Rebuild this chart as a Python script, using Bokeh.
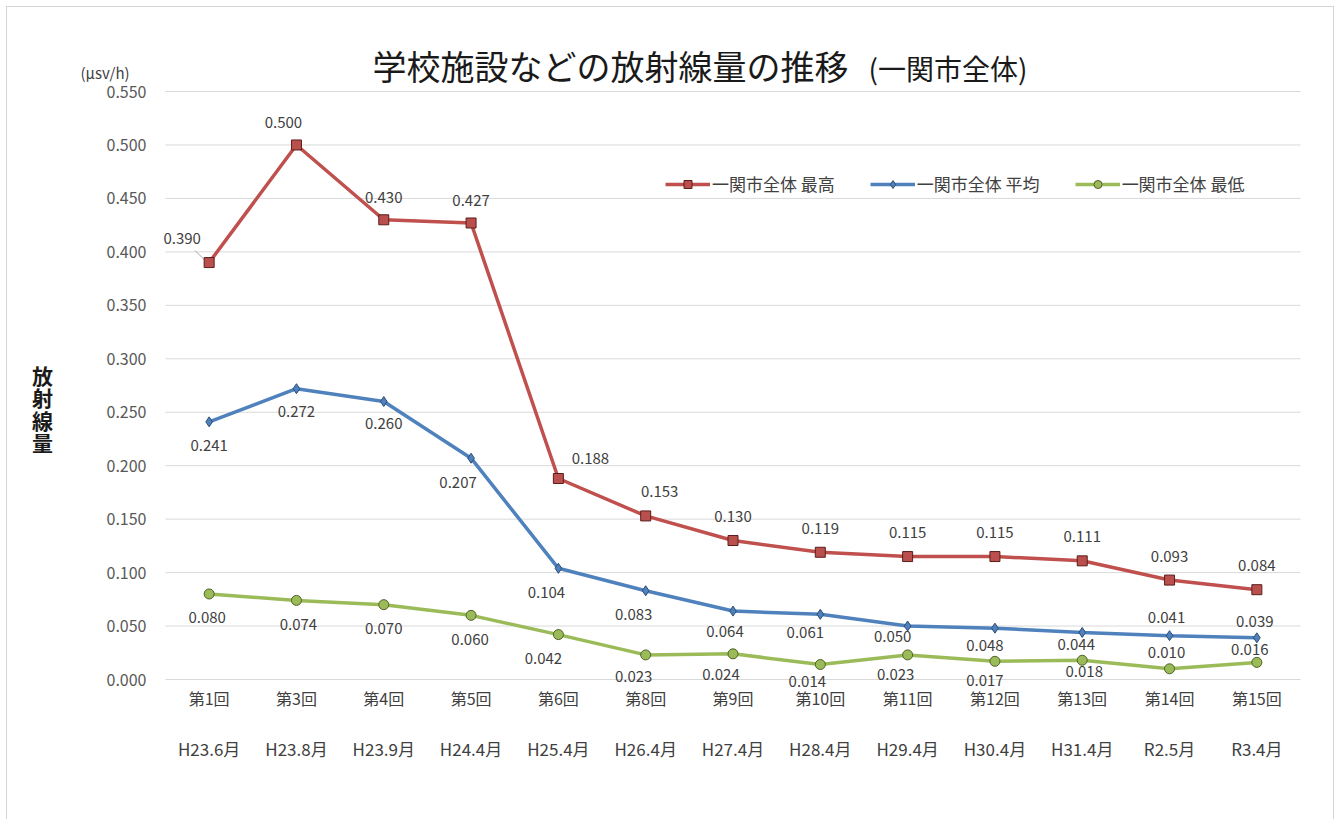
from bokeh.plotting import figure
from bokeh.models import ColumnDataSource, Label, Legend, LegendItem, Range1d
from bokeh.core.properties import value
from bokeh.embed import file_html
from bokeh.resources import INLINE

# ---- data ----
rounds = ["第1回", "第3回", "第4回", "第5回", "第6回", "第8回", "第9回",
          "第10回", "第11回", "第12回", "第13回", "第14回", "第15回"]
dates = ["H23.6月", "H23.8月", "H23.9月", "H24.4月", "H25.4月", "H26.4月", "H27.4月",
         "H28.4月", "H29.4月", "H30.4月", "H31.4月", "R2.5月", "R3.4月"]
max_vals = [0.390, 0.500, 0.430, 0.427, 0.188, 0.153, 0.130, 0.119, 0.115, 0.115, 0.111, 0.093, 0.084]
avg_vals = [0.241, 0.272, 0.260, 0.207, 0.104, 0.083, 0.064, 0.061, 0.050, 0.048, 0.044, 0.041, 0.039]
min_vals = [0.080, 0.074, 0.070, 0.060, 0.042, 0.023, 0.024, 0.014, 0.023, 0.017, 0.018, 0.010, 0.016]
y_ticks = [0.00, 0.05, 0.10, 0.15, 0.20, 0.25, 0.30, 0.35, 0.40, 0.45, 0.50, 0.55]
y_tick_labels = ["0.000", "0.050", "0.100", "0.150", "0.200", "0.250", "0.300",
                 "0.350", "0.400", "0.450", "0.500", "0.550"]
series_names = ["一関市全体 最高", "一関市全体 平均", "一関市全体 最低"]
title_main = "学校施設などの放射線量の推移"
title_sub = "(一関市全体)"
unit_text = "(µsv/h)"
y_title = "放射線量"

# ---- layout (page pixels) ----
W, H = 1328, 813
CL, CT = 7, 7                     # canvas origin on the page
CR, CB = CL + W, CT + H
PL, PR, PT, PB = 165, 1300, 91, 679   # plot area: first/last band edges, top tick line, 0 line
n = len(rounds)
xs = (PR - PL) / n
ys = (PB - PT) / y_ticks[-1]
X0 = -0.5 - (PL - CL) / xs
X1 = n - 0.5 + (CR - PR) / xs
Y0 = -(CB - PB) / ys
Y1 = y_ticks[-1] + (PT - CT) / ys

def sx(px):  # page x -> canvas screen x
    return px - CL

def sy(py):  # page y -> canvas screen y (from bottom)
    return CB - py

# label offsets in px (dx right, dy down)
max_off = [(-27, -24), (-13, -22), (0, -22), (0, -22), (32, -20), (14, -24), (0, -24),
           (0, -24), (0, -24), (0, -24), (0, -24), (0, -24), (0, -24)]
avg_off = [(0, 24), (0, 23), (0, 22), (-13, 24), (-12, 24), (-12, 24), (-8, 20),
           (-15, 18), (-15, 10), (-10, 17), (-6, 12), (-3, -18), (-2, -16)]
min_off = [(-2, 24), (2, 24), (0, 24), (-1, 24), (-15, 24), (-12, 22), (-12, 21),
           (-13, 17), (-12, 20), (-10, 19), (2, 11), (-3, -16), (-7, -13)]

RED, BLUE, GREEN = "#C0504D", "#4F81BD", "#9BBB59"
JP = "Noto Sans CJK JP"

p = figure(width=W, height=H, title=None,
           x_range=Range1d(X0, X1), y_range=Range1d(Y0, Y1),
           x_axis_location=None, y_axis_location=None,
           output_backend="svg", toolbar_location=None,
           min_border_left=0, min_border_right=0, min_border_top=0, min_border_bottom=0)
p.styles = {"margin-left": "6px", "margin-top": "6px",
            "border-left": "1px solid #d6d6d6", "border-top": "1px solid #d6d6d6",
            "border-right": "1px solid #d6d6d6"}
p.outline_line_color = None
p.background_fill_color = "white"
p.border_fill_color = "white"
p.grid.visible = False

idx = list(range(n))

# horizontal gridlines
p.segment(x0=[-0.5] * len(y_ticks), x1=[n - 0.5] * len(y_ticks), y0=y_ticks, y1=y_ticks,
          line_color="#d9d9d9", line_width=1)

# y tick labels
p.text(x=[-0.5] * len(y_ticks), y=y_ticks, text=y_tick_labels, x_offset=-19,
       text_align="right", text_baseline="middle",
       text_font=value(JP), text_font_size="16px", text_color="#595959")

# category labels (two rows)
p.text(x=idx, y=[0] * n, text=rounds, y_offset=18,
       text_align="center", text_baseline="middle",
       text_font=value(JP), text_font_size="16px", text_color="#404040")
p.text(x=idx, y=[0] * n, text=dates, y_offset=69,
       text_align="center", text_baseline="middle",
       text_font=value(JP), text_font_size="17px", text_color="#404040")

# leader line of the first maximum label (from label corner to marker)
p.segment(x0=[idx[0] - 14 / xs], y0=[max_vals[0] + 12 / ys],
          x1=[idx[0] - 5 / xs], y1=[max_vals[0] + 3 / ys],
          line_color="#a6a6a6", line_width=1)

def add_series(vals, color, marker, msize, mfill, mline, offs):
    src = ColumnDataSource(dict(x=idx, y=vals))
    l = p.line("x", "y", source=src, line_color=color, line_width=3.5)
    s = p.scatter("x", "y", source=src, marker=marker, size=msize,
                  fill_color=mfill, line_color=mline, line_width=1)
    lab = ColumnDataSource(dict(x=idx, y=vals, t=["%.3f" % v for v in vals],
                                xo=[o[0] for o in offs], yo=[o[1] for o in offs]))
    p.text("x", "y", text="t", source=lab, x_offset="xo", y_offset="yo",
           text_align="center", text_baseline="middle",
           text_font=value(JP), text_font_size="15px", text_color="#404040")
    return [l, s]

r_max = add_series(max_vals, RED, "square", 10, "#B9504D", "#5a1e1c", max_off)
r_avg = add_series(avg_vals, BLUE, "diamond", 10, "#4F81BD", "#2c4d75", avg_off)
r_min = add_series(min_vals, GREEN, "circle", 10, "#9BBB59", "#4F6228", min_off)

legend = Legend(items=[LegendItem(label=series_names[0], renderers=r_max),
                       LegendItem(label=series_names[1], renderers=r_avg),
                       LegendItem(label=series_names[2], renderers=r_min)],
                orientation="horizontal", location=(sx(665), sy(196)),
                glyph_width=45, label_standoff=2, spacing=35, padding=5, margin=0,
                border_line_color=None, background_fill_alpha=0,
                label_text_font=JP, label_text_font_size="17px", label_text_color="#404040")
p.add_layout(legend)

p.add_layout(Label(x=sx(372), y=sy(65), x_units="screen", y_units="screen", text=title_main,
                   text_font=JP, text_font_size="34px", text_color="#1a1a1a",
                   text_baseline="middle", text_align="left"))
p.add_layout(Label(x=sx(868), y=sy(67), x_units="screen", y_units="screen", text=title_sub,
                   text_font=JP, text_font_size="28px", text_color="#1a1a1a",
                   text_baseline="middle", text_align="left"))
p.add_layout(Label(x=sx(80), y=sy(72), x_units="screen", y_units="screen", text=unit_text,
                   text_font=JP, text_font_size="15px", text_color="#404040",
                   text_baseline="middle", text_align="left"))
p.add_layout(Label(x=sx(42), y=sy(408), x_units="screen", y_units="screen", text="\n".join(y_title),
                   text_font=JP, text_font_size="21px", text_font_style="bold",
                   text_color="#1a1a1a", text_line_height=0.75,
                   text_baseline="middle", text_align="center"))

open("out.html", "w").write(file_html(p, INLINE))
